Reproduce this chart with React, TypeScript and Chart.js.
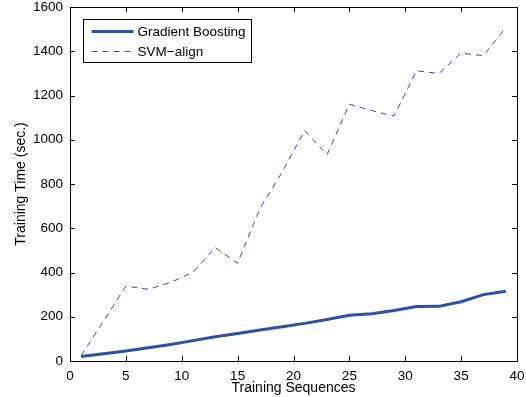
import React, { useEffect, useRef } from "react";
import { Chart, registerables } from "chart.js";

Chart.register(...registerables);

const xValues = [1, 3, 5, 7, 9, 11, 13, 15, 17, 19, 21, 23, 25, 27, 29, 31, 33, 35, 37, 39];
const gradientBoosting = [20, 33, 45, 60, 75, 92, 110, 124, 140, 155, 170, 188, 207, 214, 228, 246, 247, 268, 300, 315];
const svmAlign = [25, 180, 339, 324, 355, 401, 513, 442, 690, 855, 1042, 932, 1161, 1132, 1107, 1312, 1299, 1392, 1380, 1508];
const seriesNames = ["Gradient Boosting", "SVM\u2212align"];
const xTitle = "Training Sequences";
const yTitle = "Training Time (sec.)";

const BLUE = "#2f4fa6";
const FONT = "'Liberation Sans', Arial, Helvetica, sans-serif";

const boxPlugin = {
  id: "matlabBox",
  afterDatasetsDraw(chart: any) {
    const { ctx, chartArea: a, scales } = chart;
    ctx.save();
    ctx.strokeStyle = "#000";
    ctx.lineWidth = 1;
    ctx.strokeRect(Math.round(a.left) + 0.5, Math.round(a.top) + 0.5, Math.round(a.right - a.left), Math.round(a.bottom - a.top));
    const tl = 5;
    ctx.beginPath();
    scales.x.ticks.forEach((t: any) => {
      const px = Math.round(scales.x.getPixelForValue(t.value)) + 0.5;
      ctx.moveTo(px, a.bottom);
      ctx.lineTo(px, a.bottom - tl);
      ctx.moveTo(px, a.top);
      ctx.lineTo(px, a.top + tl);
    });
    scales.y.ticks.forEach((t: any) => {
      const py = Math.round(scales.y.getPixelForValue(t.value)) + 0.5;
      ctx.moveTo(a.left, py);
      ctx.lineTo(a.left + tl, py);
      ctx.moveTo(a.right, py);
      ctx.lineTo(a.right - tl, py);
    });
    ctx.stroke();

    const lx = Math.round(a.left) + 13.5;
    const ly = Math.round(a.top) + 12.5;
    const lw = 168;
    const lh = 43;
    ctx.fillStyle = "#fff";
    ctx.fillRect(lx, ly, lw, lh);
    ctx.strokeStyle = "#000";
    ctx.lineWidth = 1;
    ctx.strokeRect(lx, ly, lw, lh);
    const rows = [ly + 12, ly + 32];
    chart.data.datasets.forEach((ds: any, i: number) => {
      ctx.strokeStyle = ds.borderColor;
      ctx.lineWidth = ds.borderWidth;
      ctx.setLineDash(ds.borderDash || []);
      ctx.beginPath();
      ctx.moveTo(lx + 8, rows[i]);
      ctx.lineTo(lx + 50, rows[i]);
      ctx.stroke();
      ctx.setLineDash([]);
      ctx.fillStyle = "#000";
      ctx.font = `13.5px ${FONT}`;
      ctx.textBaseline = "middle";
      ctx.textAlign = "left";
      ctx.fillText(ds.label, lx + 54, rows[i] + 0.5);
    });
    ctx.restore();
  },
};

export default function App() {
  const ref = useRef<HTMLCanvasElement>(null);
  useEffect(() => {
    if (!ref.current) return;
    const chart = new Chart(ref.current, {
      type: "line",
      data: {
        datasets: [
          {
            label: seriesNames[0],
            data: xValues.map((x, i) => ({ x, y: gradientBoosting[i] })),
            borderColor: BLUE,
            borderWidth: 3,
            pointRadius: 0,
            tension: 0,
          },
          {
            label: seriesNames[1],
            data: xValues.map((x, i) => ({ x, y: svmAlign[i] })),
            borderColor: BLUE,
            borderWidth: 1,
            borderDash: [6, 5],
            pointRadius: 0,
            tension: 0,
          },
        ],
      },
      options: {
        animation: false,
        responsive: false,
        devicePixelRatio: 1,
        layout: { padding: { left: 0, top: 7, right: 9, bottom: 0 } },
        plugins: { legend: { display: false }, tooltip: { enabled: false } },
        scales: {
          x: {
            type: "linear",
            min: 0,
            max: 40,
            grid: { display: false, drawTicks: false },
            border: { display: false },
            ticks: { stepSize: 5, color: "#000", font: { family: FONT, size: 13.5 }, padding: 7, maxRotation: 0, callback: (v: any) => String(v) },
            title: { display: true, text: xTitle, color: "#000", font: { family: FONT, size: 14 }, padding: { top: 0, bottom: 0 } },
            afterFit: (s: any) => { s.height = 36; s.paddingLeft = 0; s.paddingRight = 0; },
          },
          y: {
            type: "linear",
            min: 0,
            max: 1600,
            grid: { display: false, drawTicks: false },
            border: { display: false },
            ticks: { stepSize: 200, color: "#000", font: { family: FONT, size: 13.5 }, padding: 7, callback: (v: any) => String(v) },
            title: { display: true, text: yTitle, color: "#000", font: { family: FONT, size: 14 }, padding: { top: 13, bottom: 0 } },
            afterFit: (s: any) => { s.width = 70; s.paddingTop = 0; s.paddingBottom = 0; },
          },
        },
      },
      plugins: [boxPlugin],
    });
    return () => chart.destroy();
  }, []);
  return (
    <div style={{ position: "fixed", left: 0, top: 0, width: 526, height: 397, background: "#fff" }}>
      <canvas ref={ref} width={526} height={397} />
    </div>
  );
}
